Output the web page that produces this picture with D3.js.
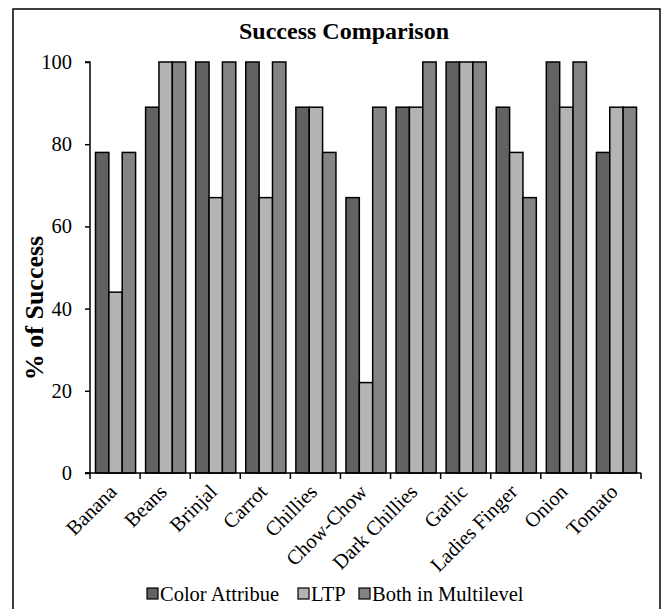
<!DOCTYPE html>
<html><head><meta charset="utf-8">
<script src="https://cdn.jsdelivr.net/npm/d3@7"></script>
<style>body{margin:0;background:#fff}svg{display:block}text{font-family:"Liberation Serif","Times New Roman",serif}</style>
</head><body>
<svg id="c" width="667" height="609"></svg>
<script>
const categories = ["Banana","Beans","Brinjal","Carrot","Chillies","Chow-Chow","Dark Chillies","Garlic","Ladies Finger","Onion","Tomato"];
const seriesNames = ["Color Attribue","LTP","Both in Multilevel"];
const colorAttribue = [78,89,100,100,89,67,89,100,89,100,78];
const ltp = [44,100,67,67,89,22,89,100,78,89,89];
const bothMultilevel = [78,100,100,100,78,89,100,100,67,100,89];
const yTicks = [0,20,40,60,80,100];
const colors = ["#626262","#b4b4b4","#848484"];

const series = [colorAttribue, ltp, bothMultilevel];
const svg = d3.select("#c");
svg.append("rect").attr("x",13).attr("y",9).attr("width",647).attr("height",610)
  .attr("fill","none").attr("stroke","#000").attr("stroke-width",1.5);

const L=90, R=641, T=62, B=473;
const x0 = d3.scaleBand().domain(categories).range([L,R]).padding(0);
const x1 = d3.scaleBand().domain(seriesNames).range([5.5, x0.bandwidth()-4.5]).padding(0);
const y = d3.scaleLinear().domain([0,100]).range([B,T]);

svg.append("text").attr("x",344).attr("y",39).attr("text-anchor","middle")
  .attr("font-size",24).attr("font-weight","bold").text("Success Comparison");

const g = svg.append("g");
categories.forEach((c,i)=>{
  series.forEach((s,j)=>{
    g.append("rect").attr("x",x0(c)+x1(seriesNames[j])).attr("y",y(s[i]))
      .attr("width",x1.bandwidth()).attr("height",B-y(s[i]))
      .attr("fill",colors[j]).attr("stroke","#000").attr("stroke-width",1.5);
  });
});

// y axis
const ya = svg.append("g").attr("transform",`translate(${L},0)`)
  .call(d3.axisLeft(y).tickValues(yTicks).tickSize(5).tickPadding(13).tickFormat(d3.format("d")));
ya.select(".domain").attr("stroke","#000").attr("stroke-width",1.5).attr("d",`M-5,${T}H0V${B}H-5`);
ya.selectAll(".tick line").attr("stroke-width",1.5);
ya.selectAll("text").attr("font-size",20.5).attr("font-family","Liberation Serif").attr("fill","#000");

// x axis
const xa = svg.append("g").attr("transform",`translate(0,${B})`);
xa.append("line").attr("x1",L-5).attr("x2",R).attr("y1",0).attr("y2",0).attr("stroke","#000").attr("stroke-width",1.5);
const bounds = categories.map(c=>x0(c)).concat([R]);
bounds.forEach(b=>{
  xa.append("line").attr("x1",b).attr("x2",b).attr("y1",0).attr("y2",6).attr("stroke","#000").attr("stroke-width",1.5);
});
categories.forEach(c=>{
  const cx = x0(c)+x0.bandwidth()/2+3;
  xa.append("text").attr("transform",`translate(${cx},20) rotate(-45)`)
    .attr("text-anchor","end").attr("font-size",20.5).text(c);
});

svg.append("text").attr("transform","translate(43,308) rotate(-90)").attr("text-anchor","middle")
  .attr("font-size",26).attr("font-weight","bold").text("% of Success");

// legend
const legX = [147,298,359];
seriesNames.forEach((n,j)=>{
  svg.append("rect").attr("x",legX[j]).attr("y",588).attr("width",11).attr("height",11)
    .attr("fill",colors[j]).attr("stroke","#000").attr("stroke-width",1.2);
  svg.append("text").attr("x",legX[j]+13).attr("y",601).attr("font-size",20.5).text(n);
});
</script>
</body></html>
